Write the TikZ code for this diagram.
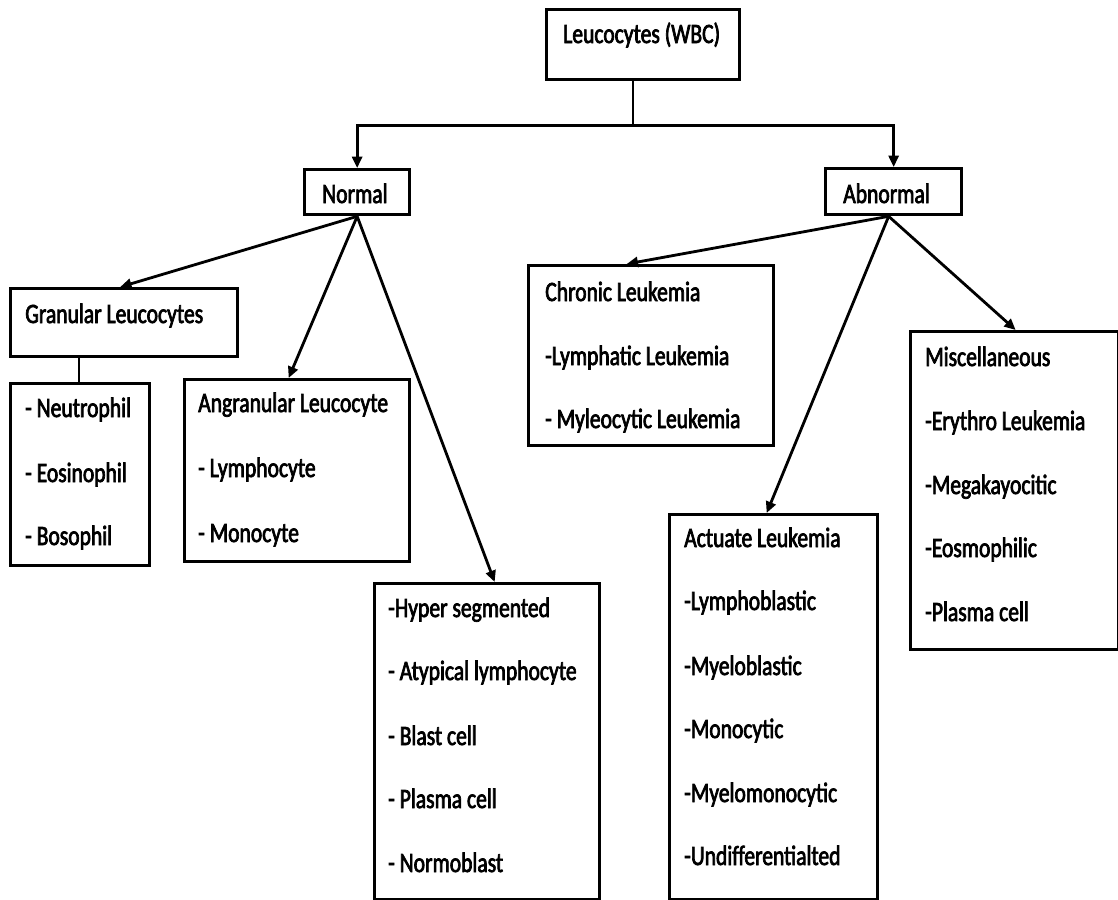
\documentclass[tikz,border=0pt]{standalone}
\usepackage{fontspec}
\setmainfont{Carlito}[FakeStretch=0.77,FakeBold=2.5]
\usetikzlibrary{arrows.meta,calc}
\begin{document}
\begin{tikzpicture}[x=0.75pt,y=-0.75pt,
  box/.style 2 args={draw,line width=2.5pt,inner sep=0,anchor=north west,minimum width=#1*0.75pt,minimum height=#2*0.75pt},
  txt/.style={anchor=base west,inner sep=0,font=\fontsize{21pt}{25pt}\selectfont},
  arr/.style={line width=2.1pt,-{Triangle[length=8.5pt,width=7.5pt]}},
  ln/.style={line width=2.1pt}]
\useasboundingbox (0,0) rectangle (1118,900);
% boxes
\node[box={193}{70}] (root) at (545,8) {};
\node[box={105}{45}] (normal) at (303,168) {};
\node[box={136}{46}] (abnormal) at (824,167) {};
\node[box={227}{68}] (gran) at (9,287) {};
\node[box={139}{182}] (neut) at (9,382) {};
\node[box={225}{182}] (angr) at (183,378) {};
\node[box={225}{316}] (hyper) at (373,582) {};
\node[box={245}{180}] (chron) at (527,264) {};
\node[box={208}{385}] (actu) at (668,513) {};
\node[box={208}{318}] (misc) at (909,330) {};
% texts
\node[txt] (t-root) at (563,43) {Leucocytes (WBC)};
\node[txt] (t-normal) at (322,203) {Normal};
\node[txt] (t-abnormal) at (843,203) {Abnormal};
\node[txt] (t-gran) at (25,323) {Granular Leucocytes};
\node[txt] (t-n1) at (25,417) {- Neutrophil};
\node[txt] (t-n2) at (25,482) {- Eosinophil};
\node[txt] (t-n3) at (25,545) {- Bosophil};
\node[txt] (t-a0) at (198,412) {Angranular Leucocyte};
\node[txt] (t-a1) at (198,477) {- Lymphocyte};
\node[txt] (t-a2) at (198,542) {- Monocyte};
\node[txt] (t-h1) at (388,617) {-Hyper segmented};
\node[txt] (t-h2) at (388,680) {- Atypical lymphocyte};
\node[txt] (t-h3) at (388,745) {- Blast cell};
\node[txt] (t-h4) at (388,808) {- Plasma cell};
\node[txt] (t-h5) at (388,872) {- Normoblast};
\node[txt] (t-c0) at (545,301) {Chronic Leukemia};
\node[txt] (t-c1) at (545,365) {-Lymphatic Leukemia};
\node[txt] (t-c2) at (545,428) {- Myleocytic Leukemia};
\node[txt] (t-u0) at (684,547) {Actuate Leukemia};
\node[txt] (t-u1) at (684,610) {-Lymphoblastic};
\node[txt] (t-u2) at (684,675) {-Myeloblastic};
\node[txt] (t-u3) at (684,738) {-Monocytic};
\node[txt] (t-u4) at (684,802) {-Myelomonocytic};
\node[txt] (t-u5) at (684,865) {-Undifferentialted};
\node[txt] (t-m0) at (925,366) {Miscellaneous};
\node[txt] (t-m1) at (925,430) {-Erythro Leukemia};
\node[txt] (t-m2) at (925,494) {-Megakayocitic};
\node[txt] (t-m3) at (925,557) {-Eosmophilic};
\node[txt] (t-m4) at (925,621) {-Plasma cell};
% connectors
\coordinate (top) at ($(root.south west)+(88,0)$);
\coordinate (bar) at ($(top)+(0,44)$);
\draw[ln] (top) -- (bar);
\draw[arr] (bar) -| (normal.north);
\draw[arr] (bar) -| (abnormal.north);
\draw[arr] (normal.south) -- ($(gran.north)+(-4,0)$);
\draw[arr] (normal.south) -- ($(angr.north)+(-8.5,0)$);
\draw[arr] (normal.south) -- ($(hyper.north)+(7.5,0)$);
\coordinate (as) at ($(abnormal.south)+(-5,0)$);
\draw[arr] (as) -- ($(chron.north)+(-24.5,0)$);
\draw[arr] (as) -- ($(actu.north)+(-7,0)$);
\draw[arr] (as) -- ($(misc.north)+(1,0)$);
\draw[ln] ($(gran.south west)+(70,0)$) -- ($(neut.north west)+(70,0)$);
\end{tikzpicture}
\end{document}
